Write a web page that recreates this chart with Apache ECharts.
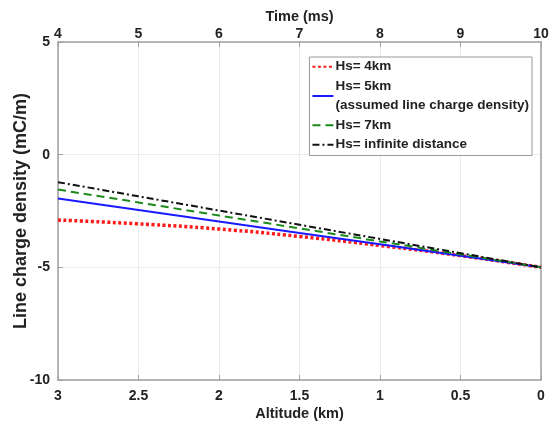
<!DOCTYPE html>
<html><head><meta charset="utf-8">
<script src="https://cdn.jsdelivr.net/npm/echarts@6/dist/echarts.min.js"></script>
<style>html,body{margin:0;padding:0;background:#fff}#c{width:553px;height:426px}</style>
</head><body><div id="c"></div>
<script>
const altitudes = [3, 2.5, 2, 1.5, 1, 0.5, 0];
const hs4 = [-2.9, -3.07, -3.3, -3.63, -4.03, -4.48, -5];
const hs5 = [-1.95, -2.46, -2.97, -3.48, -3.98, -4.49, -5];
const hs7 = [-1.55, -2.12, -2.7, -3.27, -3.85, -4.42, -5];
const hsInf = [-1.22, -1.85, -2.48, -3.11, -3.74, -4.37, -5];
const names = ['Hs= 4km', 'Hs= 5km\n(assumed line charge density)', 'Hs= 7km', 'Hs= infinite distance'];
const timeTicks = [4, 5, 6, 7, 8, 9, 10];
const yTicks = [-10, -5, 0, 5];

const pair = v => altitudes.map((a, i) => [a, v[i]]);
const font = 'Liberation Sans, Arial, sans-serif';
const axisLabel = {color: '#222', fontWeight: 'bold', fontSize: 14, fontFamily: font};
const axisLine = {show: true, onZero: false, lineStyle: {color: '#a0a0a0', width: 1.5}};
const tick = {show: true, inside: true, length: 5, lineStyle: {color: '#a0a0a0'}};
const titleStyle = {color: '#222', fontWeight: 'bold', fontSize: 14.5, fontFamily: font};
const chart = echarts.init(document.getElementById('c'));
chart.setOption({
  animation: false,
  grid: {left: 58, right: 12, top: 42, bottom: 46, containLabel: false, outerBoundsMode: 'none'},
  legend: {
    right: 21, top: 57, orient: 'vertical', itemGap: 0, itemWidth: 21, itemHeight: 8,
    borderColor: '#999', borderWidth: 1, padding: [0, 3, 1, 2], backgroundColor: '#fff',
    itemStyle: {opacity: 0},
    textStyle: {color: '#222', fontWeight: 'bold', fontSize: 13.5, fontFamily: font, lineHeight: 19.5, padding: [0, 0, 0, -3]},
    data: names
  },
  xAxis: [{
    type: 'value', min: 0, max: 3, interval: 0.5, inverse: true, position: 'bottom',
    name: 'Altitude (km)', nameLocation: 'middle', nameGap: 26, nameMoveOverlap: false, nameTextStyle: titleStyle,
    axisLine, axisTick: tick,
    axisLabel: Object.assign({margin: 9}, axisLabel),
    splitLine: {show: true, lineStyle: {color: '#ececec'}}
  }, {
    type: 'value', min: timeTicks[0], max: timeTicks[timeTicks.length - 1], interval: 1, position: 'top',
    name: 'Time (ms)', nameLocation: 'middle', nameGap: 18, nameMoveOverlap: false, nameTextStyle: titleStyle,
    axisLine, axisTick: tick,
    axisLabel: Object.assign({margin: 1}, axisLabel), splitLine: {show: false}
  }],
  yAxis: [{
    type: 'value', min: yTicks[0], max: yTicks[yTicks.length - 1], interval: 5,
    name: 'Line charge density (mC/m)', nameLocation: 'middle', nameGap: 28, nameMoveOverlap: false,
    nameTextStyle: Object.assign({}, titleStyle, {fontSize: 18}),
    axisLine, axisTick: tick,
    axisLabel: Object.assign({margin: 8}, axisLabel),
    splitLine: {show: true, lineStyle: {color: '#ececec'}}
  }, {
    type: 'value', min: -10, max: 5, interval: 5, position: 'right',
    axisLine, axisTick: {show: false}, axisLabel: {show: false}, splitLine: {show: false}
  }],
  series: [
    {name: names[0], type: 'line', data: pair(hs4), showSymbol: false, symbol: 'none', smooth: true,
     lineStyle: {color: '#ff1a1a', width: 3.5, type: [3, 2.5]}, itemStyle: {color: '#ff1a1a'}, z: 2},
    {name: names[1], type: 'line', data: pair(hs5), showSymbol: false, symbol: 'none',
     lineStyle: {color: '#1a1aff', width: 2}, itemStyle: {color: '#1a1aff'}, z: 3},
    {name: names[2], type: 'line', data: pair(hs7), showSymbol: false, symbol: 'none',
     lineStyle: {color: '#1a8a1a', width: 2, type: [8, 5]}, itemStyle: {color: '#1a8a1a'}, z: 4},
    {name: names[3], type: 'line', data: pair(hsInf), showSymbol: false, symbol: 'none',
     lineStyle: {color: '#111', width: 2, type: [7, 3, 2, 3]}, itemStyle: {color: '#111'}, z: 5}
  ]
});
</script></body></html>
